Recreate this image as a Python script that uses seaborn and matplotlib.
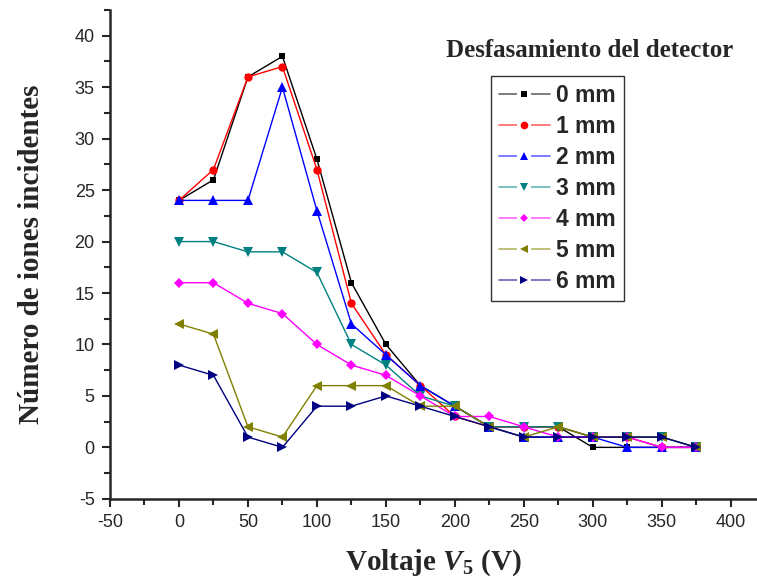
import matplotlib
matplotlib.use('Agg')
import matplotlib.pyplot as plt
import numpy as np
import seaborn as sns
import pandas as pd
from matplotlib.lines import Line2D
from matplotlib.ticker import MultipleLocator

# voltage steps (V)
voltaje = [0, 25, 50, 75, 100, 125, 150, 175, 200, 225, 250, 275, 300, 325, 350, 375]

# incident ions per detector offset
mm0 = [24, 26, 36, 38, 28, 16, 10, 6, 4, 2, 2, 2, 0, 0, 0, 0]
mm1 = [24, 27, 36, 37, 27, 14, 9, 6, 3, 2, 2, 2, 1, 1, 0, 0]
mm2 = [24, 24, 24, 35, 23, 12, 9, 6, 4, 2, 1, 1, 1, 0, 0, 0]
mm3 = [20, 20, 19, 19, 17, 10, 8, 5, 4, 2, 2, 2, 1, 1, 1, 0]
mm4 = [16, 16, 14, 13, 10, 8, 7, 5, 3, 3, 2, 1, 1, 1, 0, 0]
mm5 = [12, 11, 2, 1, 6, 6, 6, 4, 4, 2, 1, 2, 1, 1, 1, 0]
mm6 = [8, 7, 1, 0, 4, 4, 5, 4, 3, 2, 1, 1, 1, 1, 1, 0]

etiquetas = ['0 mm', '1 mm', '2 mm', '3 mm', '4 mm', '5 mm', '6 mm']
colores = ['#000000', '#ff0000', '#0000ff', '#008080', '#ff00ff', '#808000', '#000080']
marcadores = ['s', 'o', '^', 'v', 'D', '<', '>']
tamanos = [5, 6, 6.5, 6.5, 5.5, 6.5, 6.5]

series = [mm0, mm1, mm2, mm3, mm4, mm5, mm6]
df = pd.concat([
    pd.DataFrame({'Voltaje': voltaje, 'Iones': s, 'Desfase': lab})
    for s, lab in zip(series, etiquetas)
], ignore_index=True)

sns.set_style('ticks')
plt.rcParams['font.family'] = ['Liberation Sans', 'DejaVu Sans']
plt.rcParams['axes.unicode_minus'] = False
plt.rcParams['mathtext.fontset'] = 'custom'
plt.rcParams['mathtext.it'] = 'Liberation Serif:bold:italic'
plt.rcParams['mathtext.rm'] = 'Liberation Serif:bold'

fig = plt.figure(figsize=(7.57, 5.83), dpi=100)
ax = fig.add_axes([0.1453, 0.1444, 0.8547, 0.8384])

sns.lineplot(data=df, x='Voltaje', y='Iones', hue='Desfase', style='Desfase',
             palette=colores, markers=marcadores, dashes=False,
             linewidth=1, markeredgewidth=0, legend=False, ax=ax)
for line, ms in zip(ax.get_lines(), tamanos):
    line.set_markersize(ms)

ax.set_xlim(-50, 419)
ax.set_ylim(-5, 42.5)
ax.xaxis.set_major_locator(MultipleLocator(50))
ax.xaxis.set_minor_locator(MultipleLocator(25))
ax.yaxis.set_major_locator(MultipleLocator(5))
ax.yaxis.set_minor_locator(MultipleLocator(2.5))
ax.tick_params(which='major', direction='out', length=6, width=1.5, labelsize=13, pad=5)
ax.tick_params(which='minor', direction='out', length=4, width=1.5)
sns.despine(ax=ax)
for sp in ['left', 'bottom']:
    ax.spines[sp].set_linewidth(1.8)

ax.set_xlabel(r'Voltaje $\mathit{V_5}$ (V)', family='Liberation Serif',
              fontweight='bold', fontsize=21, labelpad=12)
ax.set_ylabel('Número de iones incidentes', family='Liberation Serif',
              fontweight='bold', fontsize=21, labelpad=21)

# legend handles like Origin: line, gap, marker, gap, line
handles = []
for c, m in zip(colores, marcadores):
    ln = Line2D([], [], color=c, lw=1.2, alpha=0.6)
    hueco = Line2D([], [], color='white', marker='s', ls='', markersize=10,
                   markeredgewidth=0)
    mk = Line2D([], [], color=c, marker=m, ls='', markersize=5.5 if m not in 'sD' else 4.5,
                markeredgewidth=0)
    handles.append((ln, hueco, mk))
leg = ax.legend(handles, etiquetas, loc='upper left', bbox_to_anchor=(0.589, 0.866),
                prop={'family': 'Liberation Sans', 'weight': 'bold', 'size': 16.5},
                handlelength=2.2, handletextpad=0.3, labelspacing=0.35,
                borderpad=0.35, borderaxespad=0, fancybox=False, framealpha=1)
leg.get_frame().set_edgecolor('#333333')
leg.get_frame().set_linewidth(1)

ax.text(0.742, 0.918, 'Desfasamiento del detector', transform=ax.transAxes,
        ha='center', va='center', family='Liberation Serif', fontweight='bold',
        fontsize=18)

fig.savefig('out.png', dpi=100)
